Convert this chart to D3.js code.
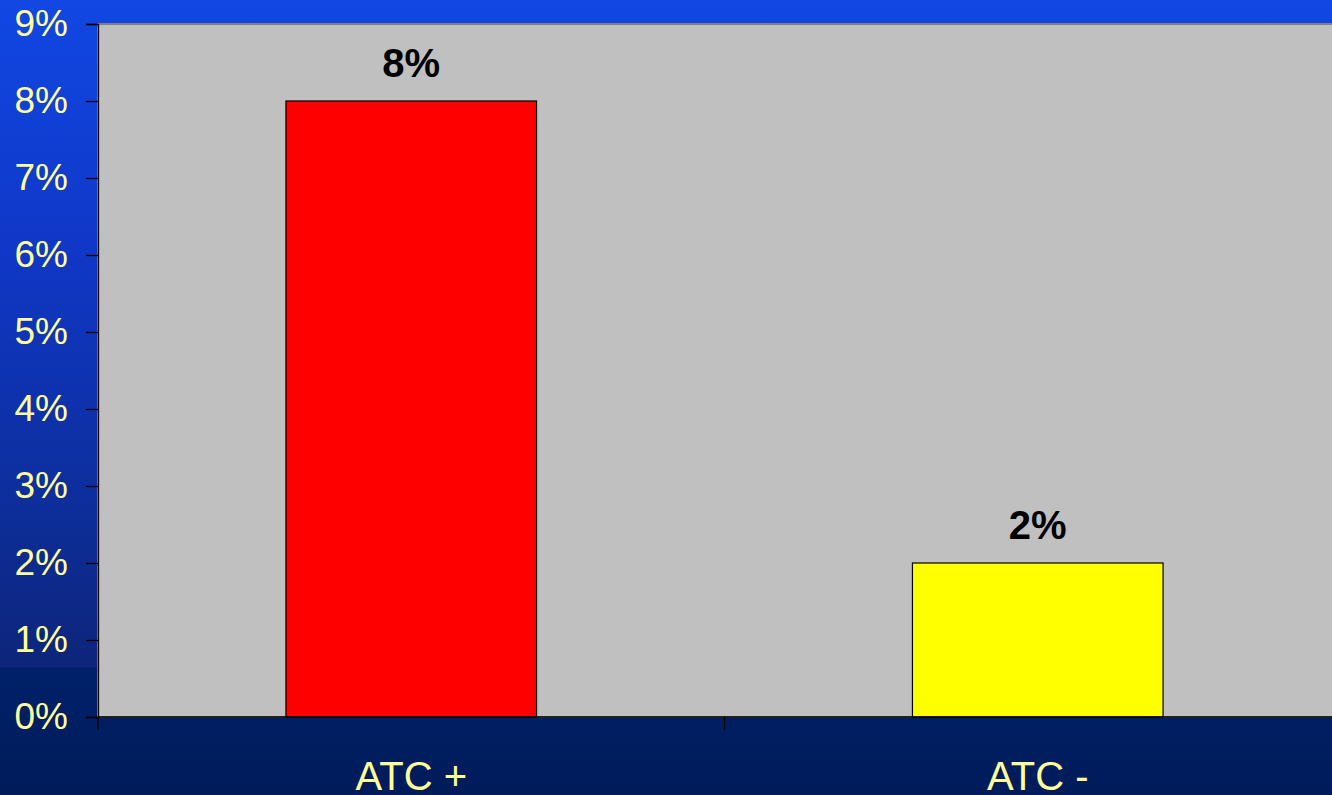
<!DOCTYPE html>
<html>
<head>
<meta charset="utf-8">
<script src="https://cdn.jsdelivr.net/npm/d3@7"></script>
<style>
  html, body { margin: 0; padding: 0; overflow: hidden; }
  svg { display: block; }
</style>
</head>
<body>
<svg id="chart" width="1332" height="795"></svg>
<script>
// Chart data
const categories = ["ATC +", "ATC -"];
const values = [8, 2];            // percent
const barColors = ["#ff0000", "#ffff00"];
const yTicks = [0, 1, 2, 3, 4, 5, 6, 7, 8, 9];

const W = 1332, H = 795;
const plot = { left: 98, top: 24, right: 1351, bottom: 717 };

const svg = d3.select("#chart");

// Slide background: blue vertical gradient with a navy band below the plot
const defs = svg.append("defs");
const grad = defs.append("linearGradient")
  .attr("id", "bg").attr("x1", 0).attr("y1", 0).attr("x2", 0).attr("y2", 1);
[
  [0, "#1147e3"],
  [0.30, "#1038c8"],
  [0.60, "#0d2fa0"],
  [0.839, "#0d257a"],
  [0.840, "#002169"],
  [1, "#001b5a"]
].forEach(([o, c]) => grad.append("stop").attr("offset", o).attr("stop-color", c));

svg.append("rect").attr("width", W).attr("height", H).attr("fill", "url(#bg)");

// Scales
const x = d3.scaleBand()
  .domain(categories)
  .range([plot.left, plot.right])
  .paddingInner(0.6)
  .paddingOuter(0.3);

const y = d3.scaleLinear()
  .domain([0, 9])
  .range([plot.bottom, plot.top]);

// Plot area
svg.append("rect")
  .attr("x", plot.left).attr("y", plot.top)
  .attr("width", plot.right - plot.left).attr("height", plot.bottom - plot.top)
  .attr("fill", "#c0c0c0")
  .attr("stroke", "#808080").attr("stroke-width", 2);

// Bars
svg.selectAll("rect.bar")
  .data(values)
  .join("rect")
  .attr("class", "bar")
  .attr("x", (d, i) => x(categories[i]))
  .attr("y", d => y(d))
  .attr("width", x.bandwidth())
  .attr("height", d => y(0) - y(d))
  .attr("fill", (d, i) => barColors[i])
  .attr("stroke", "#000")
  .attr("stroke-width", 1.2);

// Value labels
svg.selectAll("text.value")
  .data(values)
  .join("text")
  .attr("class", "value")
  .attr("x", (d, i) => x(categories[i]) + x.bandwidth() / 2)
  .attr("y", d => y(d) - 24)
  .attr("text-anchor", "middle")
  .attr("font-family", "Liberation Sans, Arial, sans-serif")
  .attr("font-weight", "bold")
  .attr("font-size", 40)
  .attr("fill", "#000")
  .text(d => d + "%");

// Y axis
const yAxis = svg.append("g")
  .attr("transform", `translate(${plot.left},0)`)
  .call(d3.axisLeft(y).tickValues(yTicks).tickFormat(d => d + "%").tickSize(12).tickPadding(18));
yAxis.select(".domain").attr("stroke", "#000").attr("stroke-width", 1.3);
yAxis.selectAll(".tick line").attr("stroke", "#000").attr("stroke-width", 1.3);
yAxis.selectAll(".tick text")
  .attr("font-family", "Liberation Sans, Arial, sans-serif")
  .attr("font-size", 37)
  .attr("fill", "#ffff99");

// X axis: line along the baseline, ticks at category boundaries
const boundaries = [plot.left].concat(categories.map(c => x(c) + x.bandwidth() + x.step() * x.paddingInner() / 2));
const xg = svg.append("g");
xg.append("line")
  .attr("x1", plot.left).attr("x2", plot.right)
  .attr("y1", y(0)).attr("y2", y(0))
  .attr("stroke", "#000").attr("stroke-width", 1.3);
xg.selectAll("line.tick")
  .data(boundaries)
  .join("line")
  .attr("class", "tick")
  .attr("x1", d => d).attr("x2", d => d)
  .attr("y1", y(0)).attr("y2", y(0) + 13)
  .attr("stroke", "#000").attr("stroke-width", 1.3);
xg.selectAll("text.cat")
  .data(categories)
  .join("text")
  .attr("class", "cat")
  .attr("x", d => x(d) + x.bandwidth() / 2)
  .attr("y", 790)
  .attr("text-anchor", "middle")
  .attr("font-family", "Liberation Sans, Arial, sans-serif")
  .attr("font-size", 40)
  .attr("fill", "#ffff99")
  .text(d => d);
</script>
</body>
</html>
